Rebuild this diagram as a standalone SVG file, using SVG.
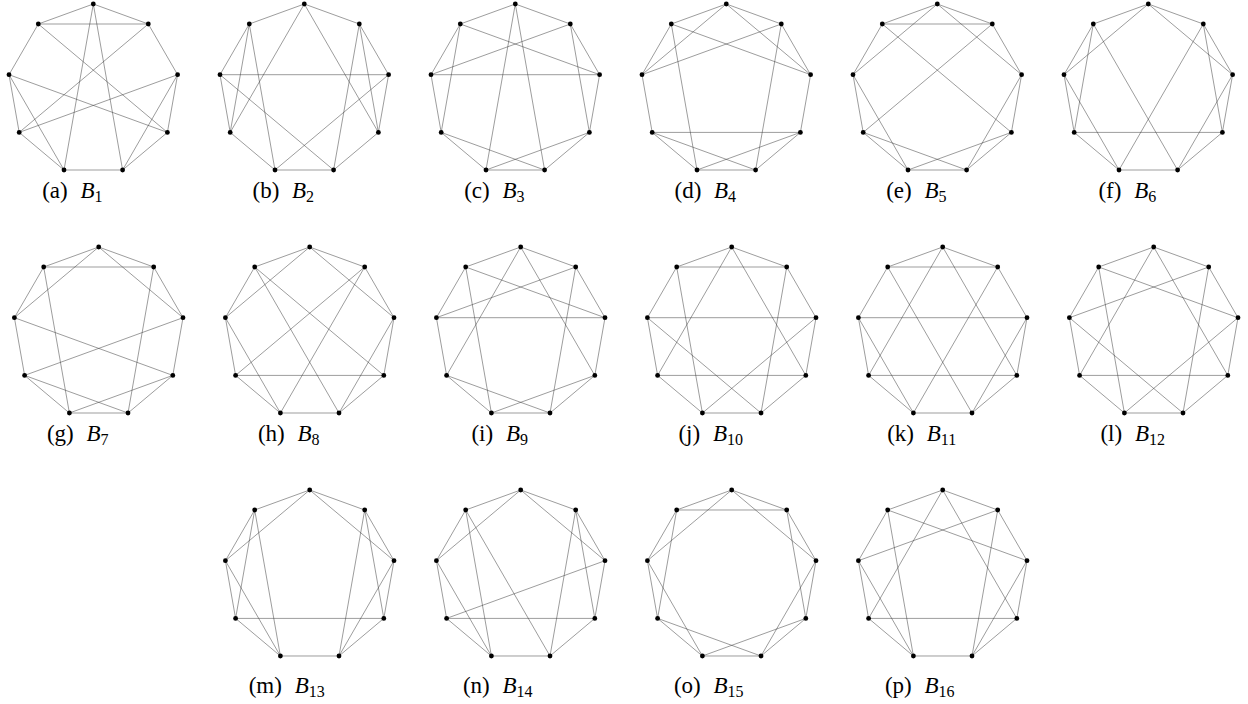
<svg xmlns="http://www.w3.org/2000/svg" width="1248" height="704" viewBox="0 0 1248 704">
<style>
.edges line{stroke:#3a3a3a;stroke-width:0.5;fill:none}
.nodes circle{fill:#000}
.lbl{font-family:"Liberation Serif","DejaVu Serif",serif;font-size:23px;fill:#000}
.it{font-style:italic}
.sub{font-size:16px}
</style>
<rect width="1248" height="704" fill="#fff"/>

<g id="graph-a" transform="translate(93.3 89.6)">
<g class="edges">
<line x1="0" y1="-85.6" x2="-55" y2="-65.6"/><line x1="0" y1="-85.6" x2="55" y2="-65.6"/><line x1="0" y1="-85.6" x2="-29.3" y2="80.4"/><line x1="0" y1="-85.6" x2="29.3" y2="80.4"/>
<line x1="-55" y1="-65.6" x2="55" y2="-65.6"/><line x1="-55" y1="-65.6" x2="-84.3" y2="-14.9"/><line x1="-55" y1="-65.6" x2="74.1" y2="42.8"/>
<line x1="55" y1="-65.6" x2="-74.1" y2="42.8"/><line x1="55" y1="-65.6" x2="84.3" y2="-14.9"/>
<line x1="-84.3" y1="-14.9" x2="74.1" y2="42.8"/><line x1="-84.3" y1="-14.9" x2="-74.1" y2="42.8"/><line x1="-84.3" y1="-14.9" x2="-29.3" y2="80.4"/>
<line x1="84.3" y1="-14.9" x2="-74.1" y2="42.8"/><line x1="84.3" y1="-14.9" x2="74.1" y2="42.8"/><line x1="84.3" y1="-14.9" x2="29.3" y2="80.4"/>
<line x1="-74.1" y1="42.8" x2="-29.3" y2="80.4"/><line x1="74.1" y1="42.8" x2="29.3" y2="80.4"/><line x1="-29.3" y1="80.4" x2="29.3" y2="80.4"/>
</g>
<g class="nodes">
<circle id="a-v0" cx="0" cy="-85.6" r="2.4"/><circle id="a-v1" cx="55" cy="-65.6" r="2.4"/><circle id="a-v2" cx="84.3" cy="-14.9" r="2.4"/><circle id="a-v3" cx="74.1" cy="42.8" r="2.4"/><circle id="a-v4" cx="29.3" cy="80.4" r="2.4"/><circle id="a-v5" cx="-29.3" cy="80.4" r="2.4"/><circle id="a-v6" cx="-74.1" cy="42.8" r="2.4"/><circle id="a-v7" cx="-84.3" cy="-14.9" r="2.4"/><circle id="a-v8" cx="-55" cy="-65.6" r="2.4"/>
</g>
<text class="lbl" x="-21" y="108" text-anchor="middle">(a)<tspan class="it" dx="7"> B</tspan><tspan class="sub" dy="4">1</tspan></text>
</g>

<g id="graph-b" transform="translate(304.3 89.6)">
<g class="edges">
<line x1="0" y1="-85.6" x2="-55" y2="-65.6"/><line x1="0" y1="-85.6" x2="55" y2="-65.6"/><line x1="0" y1="-85.6" x2="-74.1" y2="42.8"/><line x1="0" y1="-85.6" x2="74.1" y2="42.8"/>
<line x1="-55" y1="-65.6" x2="-84.3" y2="-14.9"/><line x1="-55" y1="-65.6" x2="-74.1" y2="42.8"/><line x1="-55" y1="-65.6" x2="-29.3" y2="80.4"/>
<line x1="55" y1="-65.6" x2="84.3" y2="-14.9"/><line x1="55" y1="-65.6" x2="74.1" y2="42.8"/><line x1="55" y1="-65.6" x2="29.3" y2="80.4"/>
<line x1="-84.3" y1="-14.9" x2="84.3" y2="-14.9"/><line x1="-84.3" y1="-14.9" x2="-74.1" y2="42.8"/><line x1="-84.3" y1="-14.9" x2="29.3" y2="80.4"/>
<line x1="84.3" y1="-14.9" x2="74.1" y2="42.8"/><line x1="84.3" y1="-14.9" x2="-29.3" y2="80.4"/>
<line x1="-74.1" y1="42.8" x2="-29.3" y2="80.4"/><line x1="74.1" y1="42.8" x2="29.3" y2="80.4"/><line x1="-29.3" y1="80.4" x2="29.3" y2="80.4"/>
</g>
<g class="nodes">
<circle id="b-v0" cx="0" cy="-85.6" r="2.4"/><circle id="b-v1" cx="55" cy="-65.6" r="2.4"/><circle id="b-v2" cx="84.3" cy="-14.9" r="2.4"/><circle id="b-v3" cx="74.1" cy="42.8" r="2.4"/><circle id="b-v4" cx="29.3" cy="80.4" r="2.4"/><circle id="b-v5" cx="-29.3" cy="80.4" r="2.4"/><circle id="b-v6" cx="-74.1" cy="42.8" r="2.4"/><circle id="b-v7" cx="-84.3" cy="-14.9" r="2.4"/><circle id="b-v8" cx="-55" cy="-65.6" r="2.4"/>
</g>
<text class="lbl" x="-21" y="108" text-anchor="middle">(b)<tspan class="it" dx="7"> B</tspan><tspan class="sub" dy="4">2</tspan></text>
</g>

<g id="graph-c" transform="translate(515.3 89.6)">
<g class="edges">
<line x1="0" y1="-85.6" x2="-55" y2="-65.6"/><line x1="0" y1="-85.6" x2="55" y2="-65.6"/><line x1="0" y1="-85.6" x2="-29.3" y2="80.4"/><line x1="0" y1="-85.6" x2="29.3" y2="80.4"/>
<line x1="-55" y1="-65.6" x2="84.3" y2="-14.9"/><line x1="-55" y1="-65.6" x2="-74.1" y2="42.8"/><line x1="-55" y1="-65.6" x2="-84.3" y2="-14.9"/>
<line x1="55" y1="-65.6" x2="-84.3" y2="-14.9"/><line x1="55" y1="-65.6" x2="74.1" y2="42.8"/><line x1="55" y1="-65.6" x2="84.3" y2="-14.9"/>
<line x1="-84.3" y1="-14.9" x2="84.3" y2="-14.9"/><line x1="-84.3" y1="-14.9" x2="-74.1" y2="42.8"/>
<line x1="84.3" y1="-14.9" x2="74.1" y2="42.8"/>
<line x1="-74.1" y1="42.8" x2="29.3" y2="80.4"/><line x1="-74.1" y1="42.8" x2="-29.3" y2="80.4"/>
<line x1="74.1" y1="42.8" x2="-29.3" y2="80.4"/><line x1="74.1" y1="42.8" x2="29.3" y2="80.4"/><line x1="-29.3" y1="80.4" x2="29.3" y2="80.4"/>
</g>
<g class="nodes">
<circle id="c-v0" cx="0" cy="-85.6" r="2.4"/><circle id="c-v1" cx="55" cy="-65.6" r="2.4"/><circle id="c-v2" cx="84.3" cy="-14.9" r="2.4"/><circle id="c-v3" cx="74.1" cy="42.8" r="2.4"/><circle id="c-v4" cx="29.3" cy="80.4" r="2.4"/><circle id="c-v5" cx="-29.3" cy="80.4" r="2.4"/><circle id="c-v6" cx="-74.1" cy="42.8" r="2.4"/><circle id="c-v7" cx="-84.3" cy="-14.9" r="2.4"/><circle id="c-v8" cx="-55" cy="-65.6" r="2.4"/>
</g>
<text class="lbl" x="-21" y="108" text-anchor="middle">(c)<tspan class="it" dx="7"> B</tspan><tspan class="sub" dy="4">3</tspan></text>
</g>

<g id="graph-d" transform="translate(726.3 89.6)">
<g class="edges">
<line x1="0" y1="-85.6" x2="-55" y2="-65.6"/><line x1="0" y1="-85.6" x2="55" y2="-65.6"/><line x1="0" y1="-85.6" x2="-84.3" y2="-14.9"/><line x1="0" y1="-85.6" x2="84.3" y2="-14.9"/>
<line x1="-55" y1="-65.6" x2="84.3" y2="-14.9"/><line x1="-55" y1="-65.6" x2="-29.3" y2="80.4"/><line x1="-55" y1="-65.6" x2="-84.3" y2="-14.9"/>
<line x1="55" y1="-65.6" x2="-84.3" y2="-14.9"/><line x1="55" y1="-65.6" x2="29.3" y2="80.4"/><line x1="55" y1="-65.6" x2="84.3" y2="-14.9"/>
<line x1="-84.3" y1="-14.9" x2="-74.1" y2="42.8"/>
<line x1="84.3" y1="-14.9" x2="74.1" y2="42.8"/>
<line x1="-74.1" y1="42.8" x2="74.1" y2="42.8"/><line x1="-74.1" y1="42.8" x2="-29.3" y2="80.4"/><line x1="-74.1" y1="42.8" x2="29.3" y2="80.4"/>
<line x1="74.1" y1="42.8" x2="29.3" y2="80.4"/><line x1="74.1" y1="42.8" x2="-29.3" y2="80.4"/><line x1="-29.3" y1="80.4" x2="29.3" y2="80.4"/>
</g>
<g class="nodes">
<circle id="d-v0" cx="0" cy="-85.6" r="2.4"/><circle id="d-v1" cx="55" cy="-65.6" r="2.4"/><circle id="d-v2" cx="84.3" cy="-14.9" r="2.4"/><circle id="d-v3" cx="74.1" cy="42.8" r="2.4"/><circle id="d-v4" cx="29.3" cy="80.4" r="2.4"/><circle id="d-v5" cx="-29.3" cy="80.4" r="2.4"/><circle id="d-v6" cx="-74.1" cy="42.8" r="2.4"/><circle id="d-v7" cx="-84.3" cy="-14.9" r="2.4"/><circle id="d-v8" cx="-55" cy="-65.6" r="2.4"/>
</g>
<text class="lbl" x="-21" y="108" text-anchor="middle">(d)<tspan class="it" dx="7"> B</tspan><tspan class="sub" dy="4">4</tspan></text>
</g>

<g id="graph-e" transform="translate(937.3 89.6)">
<g class="edges">
<line x1="0" y1="-85.6" x2="-55" y2="-65.6"/><line x1="0" y1="-85.6" x2="55" y2="-65.6"/><line x1="0" y1="-85.6" x2="-84.3" y2="-14.9"/><line x1="0" y1="-85.6" x2="84.3" y2="-14.9"/>
<line x1="-55" y1="-65.6" x2="55" y2="-65.6"/><line x1="-55" y1="-65.6" x2="-84.3" y2="-14.9"/><line x1="-55" y1="-65.6" x2="74.1" y2="42.8"/>
<line x1="55" y1="-65.6" x2="-74.1" y2="42.8"/><line x1="55" y1="-65.6" x2="84.3" y2="-14.9"/>
<line x1="-84.3" y1="-14.9" x2="-74.1" y2="42.8"/><line x1="-84.3" y1="-14.9" x2="-29.3" y2="80.4"/>
<line x1="84.3" y1="-14.9" x2="74.1" y2="42.8"/><line x1="84.3" y1="-14.9" x2="29.3" y2="80.4"/>
<line x1="-74.1" y1="42.8" x2="-29.3" y2="80.4"/><line x1="-74.1" y1="42.8" x2="29.3" y2="80.4"/>
<line x1="74.1" y1="42.8" x2="-29.3" y2="80.4"/><line x1="74.1" y1="42.8" x2="29.3" y2="80.4"/><line x1="-29.3" y1="80.4" x2="29.3" y2="80.4"/>
</g>
<g class="nodes">
<circle id="e-v0" cx="0" cy="-85.6" r="2.4"/><circle id="e-v1" cx="55" cy="-65.6" r="2.4"/><circle id="e-v2" cx="84.3" cy="-14.9" r="2.4"/><circle id="e-v3" cx="74.1" cy="42.8" r="2.4"/><circle id="e-v4" cx="29.3" cy="80.4" r="2.4"/><circle id="e-v5" cx="-29.3" cy="80.4" r="2.4"/><circle id="e-v6" cx="-74.1" cy="42.8" r="2.4"/><circle id="e-v7" cx="-84.3" cy="-14.9" r="2.4"/><circle id="e-v8" cx="-55" cy="-65.6" r="2.4"/>
</g>
<text class="lbl" x="-21" y="108" text-anchor="middle">(e)<tspan class="it" dx="7"> B</tspan><tspan class="sub" dy="4">5</tspan></text>
</g>

<g id="graph-f" transform="translate(1148.3 89.6)">
<g class="edges">
<line x1="0" y1="-85.6" x2="-55" y2="-65.6"/><line x1="0" y1="-85.6" x2="55" y2="-65.6"/><line x1="0" y1="-85.6" x2="-84.3" y2="-14.9"/><line x1="0" y1="-85.6" x2="84.3" y2="-14.9"/>
<line x1="-55" y1="-65.6" x2="-84.3" y2="-14.9"/><line x1="-55" y1="-65.6" x2="-74.1" y2="42.8"/><line x1="-55" y1="-65.6" x2="29.3" y2="80.4"/>
<line x1="55" y1="-65.6" x2="84.3" y2="-14.9"/><line x1="55" y1="-65.6" x2="74.1" y2="42.8"/><line x1="55" y1="-65.6" x2="-29.3" y2="80.4"/>
<line x1="-84.3" y1="-14.9" x2="-74.1" y2="42.8"/><line x1="-84.3" y1="-14.9" x2="-29.3" y2="80.4"/>
<line x1="84.3" y1="-14.9" x2="74.1" y2="42.8"/><line x1="84.3" y1="-14.9" x2="29.3" y2="80.4"/>
<line x1="-74.1" y1="42.8" x2="74.1" y2="42.8"/><line x1="-74.1" y1="42.8" x2="-29.3" y2="80.4"/>
<line x1="74.1" y1="42.8" x2="29.3" y2="80.4"/><line x1="-29.3" y1="80.4" x2="29.3" y2="80.4"/>
</g>
<g class="nodes">
<circle id="f-v0" cx="0" cy="-85.6" r="2.4"/><circle id="f-v1" cx="55" cy="-65.6" r="2.4"/><circle id="f-v2" cx="84.3" cy="-14.9" r="2.4"/><circle id="f-v3" cx="74.1" cy="42.8" r="2.4"/><circle id="f-v4" cx="29.3" cy="80.4" r="2.4"/><circle id="f-v5" cx="-29.3" cy="80.4" r="2.4"/><circle id="f-v6" cx="-74.1" cy="42.8" r="2.4"/><circle id="f-v7" cx="-84.3" cy="-14.9" r="2.4"/><circle id="f-v8" cx="-55" cy="-65.6" r="2.4"/>
</g>
<text class="lbl" x="-21" y="108" text-anchor="middle">(f)<tspan class="it" dx="7"> B</tspan><tspan class="sub" dy="4">6</tspan></text>
</g>

<g id="graph-g" transform="translate(98.7 332.6)">
<g class="edges">
<line x1="0" y1="-85.6" x2="-55" y2="-65.6"/><line x1="0" y1="-85.6" x2="55" y2="-65.6"/><line x1="0" y1="-85.6" x2="-84.3" y2="-14.9"/><line x1="0" y1="-85.6" x2="84.3" y2="-14.9"/>
<line x1="-55" y1="-65.6" x2="55" y2="-65.6"/><line x1="-55" y1="-65.6" x2="-84.3" y2="-14.9"/><line x1="-55" y1="-65.6" x2="-29.3" y2="80.4"/>
<line x1="55" y1="-65.6" x2="84.3" y2="-14.9"/><line x1="55" y1="-65.6" x2="29.3" y2="80.4"/>
<line x1="-84.3" y1="-14.9" x2="74.1" y2="42.8"/><line x1="-84.3" y1="-14.9" x2="-74.1" y2="42.8"/>
<line x1="84.3" y1="-14.9" x2="-74.1" y2="42.8"/><line x1="84.3" y1="-14.9" x2="74.1" y2="42.8"/>
<line x1="-74.1" y1="42.8" x2="-29.3" y2="80.4"/><line x1="-74.1" y1="42.8" x2="29.3" y2="80.4"/>
<line x1="74.1" y1="42.8" x2="-29.3" y2="80.4"/><line x1="74.1" y1="42.8" x2="29.3" y2="80.4"/><line x1="-29.3" y1="80.4" x2="29.3" y2="80.4"/>
</g>
<g class="nodes">
<circle id="g-v0" cx="0" cy="-85.6" r="2.4"/><circle id="g-v1" cx="55" cy="-65.6" r="2.4"/><circle id="g-v2" cx="84.3" cy="-14.9" r="2.4"/><circle id="g-v3" cx="74.1" cy="42.8" r="2.4"/><circle id="g-v4" cx="29.3" cy="80.4" r="2.4"/><circle id="g-v5" cx="-29.3" cy="80.4" r="2.4"/><circle id="g-v6" cx="-74.1" cy="42.8" r="2.4"/><circle id="g-v7" cx="-84.3" cy="-14.9" r="2.4"/><circle id="g-v8" cx="-55" cy="-65.6" r="2.4"/>
</g>
<text class="lbl" x="-21" y="108" text-anchor="middle">(g)<tspan class="it" dx="7"> B</tspan><tspan class="sub" dy="4">7</tspan></text>
</g>

<g id="graph-h" transform="translate(309.7 332.6)">
<g class="edges">
<line x1="0" y1="-85.6" x2="-55" y2="-65.6"/><line x1="0" y1="-85.6" x2="55" y2="-65.6"/><line x1="0" y1="-85.6" x2="-84.3" y2="-14.9"/><line x1="0" y1="-85.6" x2="84.3" y2="-14.9"/>
<line x1="-55" y1="-65.6" x2="74.1" y2="42.8"/><line x1="-55" y1="-65.6" x2="29.3" y2="80.4"/><line x1="-55" y1="-65.6" x2="-84.3" y2="-14.9"/>
<line x1="55" y1="-65.6" x2="-74.1" y2="42.8"/><line x1="55" y1="-65.6" x2="-29.3" y2="80.4"/><line x1="55" y1="-65.6" x2="84.3" y2="-14.9"/>
<line x1="-84.3" y1="-14.9" x2="-74.1" y2="42.8"/><line x1="-84.3" y1="-14.9" x2="-29.3" y2="80.4"/>
<line x1="84.3" y1="-14.9" x2="74.1" y2="42.8"/><line x1="84.3" y1="-14.9" x2="29.3" y2="80.4"/>
<line x1="-74.1" y1="42.8" x2="74.1" y2="42.8"/><line x1="-74.1" y1="42.8" x2="-29.3" y2="80.4"/>
<line x1="74.1" y1="42.8" x2="29.3" y2="80.4"/><line x1="-29.3" y1="80.4" x2="29.3" y2="80.4"/>
</g>
<g class="nodes">
<circle id="h-v0" cx="0" cy="-85.6" r="2.4"/><circle id="h-v1" cx="55" cy="-65.6" r="2.4"/><circle id="h-v2" cx="84.3" cy="-14.9" r="2.4"/><circle id="h-v3" cx="74.1" cy="42.8" r="2.4"/><circle id="h-v4" cx="29.3" cy="80.4" r="2.4"/><circle id="h-v5" cx="-29.3" cy="80.4" r="2.4"/><circle id="h-v6" cx="-74.1" cy="42.8" r="2.4"/><circle id="h-v7" cx="-84.3" cy="-14.9" r="2.4"/><circle id="h-v8" cx="-55" cy="-65.6" r="2.4"/>
</g>
<text class="lbl" x="-21" y="108" text-anchor="middle">(h)<tspan class="it" dx="7"> B</tspan><tspan class="sub" dy="4">8</tspan></text>
</g>

<g id="graph-i" transform="translate(520.7 332.6)">
<g class="edges">
<line x1="0" y1="-85.6" x2="-55" y2="-65.6"/><line x1="0" y1="-85.6" x2="55" y2="-65.6"/><line x1="0" y1="-85.6" x2="-74.1" y2="42.8"/><line x1="0" y1="-85.6" x2="74.1" y2="42.8"/>
<line x1="-55" y1="-65.6" x2="84.3" y2="-14.9"/><line x1="-55" y1="-65.6" x2="-29.3" y2="80.4"/><line x1="-55" y1="-65.6" x2="-84.3" y2="-14.9"/>
<line x1="55" y1="-65.6" x2="-84.3" y2="-14.9"/><line x1="55" y1="-65.6" x2="29.3" y2="80.4"/><line x1="55" y1="-65.6" x2="84.3" y2="-14.9"/>
<line x1="-84.3" y1="-14.9" x2="84.3" y2="-14.9"/><line x1="-84.3" y1="-14.9" x2="-74.1" y2="42.8"/>
<line x1="84.3" y1="-14.9" x2="74.1" y2="42.8"/>
<line x1="-74.1" y1="42.8" x2="29.3" y2="80.4"/><line x1="-74.1" y1="42.8" x2="-29.3" y2="80.4"/>
<line x1="74.1" y1="42.8" x2="-29.3" y2="80.4"/><line x1="74.1" y1="42.8" x2="29.3" y2="80.4"/><line x1="-29.3" y1="80.4" x2="29.3" y2="80.4"/>
</g>
<g class="nodes">
<circle id="i-v0" cx="0" cy="-85.6" r="2.4"/><circle id="i-v1" cx="55" cy="-65.6" r="2.4"/><circle id="i-v2" cx="84.3" cy="-14.9" r="2.4"/><circle id="i-v3" cx="74.1" cy="42.8" r="2.4"/><circle id="i-v4" cx="29.3" cy="80.4" r="2.4"/><circle id="i-v5" cx="-29.3" cy="80.4" r="2.4"/><circle id="i-v6" cx="-74.1" cy="42.8" r="2.4"/><circle id="i-v7" cx="-84.3" cy="-14.9" r="2.4"/><circle id="i-v8" cx="-55" cy="-65.6" r="2.4"/>
</g>
<text class="lbl" x="-21" y="108" text-anchor="middle">(i)<tspan class="it" dx="7"> B</tspan><tspan class="sub" dy="4">9</tspan></text>
</g>

<g id="graph-j" transform="translate(731.7 332.6)">
<g class="edges">
<line x1="0" y1="-85.6" x2="-55" y2="-65.6"/><line x1="0" y1="-85.6" x2="55" y2="-65.6"/><line x1="0" y1="-85.6" x2="-74.1" y2="42.8"/><line x1="0" y1="-85.6" x2="74.1" y2="42.8"/>
<line x1="-55" y1="-65.6" x2="55" y2="-65.6"/><line x1="-55" y1="-65.6" x2="-84.3" y2="-14.9"/><line x1="-55" y1="-65.6" x2="-29.3" y2="80.4"/>
<line x1="55" y1="-65.6" x2="84.3" y2="-14.9"/><line x1="55" y1="-65.6" x2="29.3" y2="80.4"/>
<line x1="-84.3" y1="-14.9" x2="84.3" y2="-14.9"/><line x1="-84.3" y1="-14.9" x2="29.3" y2="80.4"/><line x1="-84.3" y1="-14.9" x2="-74.1" y2="42.8"/>
<line x1="84.3" y1="-14.9" x2="-29.3" y2="80.4"/><line x1="84.3" y1="-14.9" x2="74.1" y2="42.8"/>
<line x1="-74.1" y1="42.8" x2="74.1" y2="42.8"/><line x1="-74.1" y1="42.8" x2="-29.3" y2="80.4"/>
<line x1="74.1" y1="42.8" x2="29.3" y2="80.4"/><line x1="-29.3" y1="80.4" x2="29.3" y2="80.4"/>
</g>
<g class="nodes">
<circle id="j-v0" cx="0" cy="-85.6" r="2.4"/><circle id="j-v1" cx="55" cy="-65.6" r="2.4"/><circle id="j-v2" cx="84.3" cy="-14.9" r="2.4"/><circle id="j-v3" cx="74.1" cy="42.8" r="2.4"/><circle id="j-v4" cx="29.3" cy="80.4" r="2.4"/><circle id="j-v5" cx="-29.3" cy="80.4" r="2.4"/><circle id="j-v6" cx="-74.1" cy="42.8" r="2.4"/><circle id="j-v7" cx="-84.3" cy="-14.9" r="2.4"/><circle id="j-v8" cx="-55" cy="-65.6" r="2.4"/>
</g>
<text class="lbl" x="-21" y="108" text-anchor="middle">(j)<tspan class="it" dx="7"> B</tspan><tspan class="sub" dy="4">10</tspan></text>
</g>

<g id="graph-k" transform="translate(942.7 332.6)">
<g class="edges">
<line x1="0" y1="-85.6" x2="-55" y2="-65.6"/><line x1="0" y1="-85.6" x2="55" y2="-65.6"/><line x1="0" y1="-85.6" x2="-74.1" y2="42.8"/><line x1="0" y1="-85.6" x2="74.1" y2="42.8"/>
<line x1="-55" y1="-65.6" x2="55" y2="-65.6"/><line x1="-55" y1="-65.6" x2="-84.3" y2="-14.9"/><line x1="-55" y1="-65.6" x2="29.3" y2="80.4"/>
<line x1="55" y1="-65.6" x2="84.3" y2="-14.9"/><line x1="55" y1="-65.6" x2="-29.3" y2="80.4"/>
<line x1="-84.3" y1="-14.9" x2="84.3" y2="-14.9"/><line x1="-84.3" y1="-14.9" x2="-74.1" y2="42.8"/><line x1="-84.3" y1="-14.9" x2="-29.3" y2="80.4"/>
<line x1="84.3" y1="-14.9" x2="74.1" y2="42.8"/><line x1="84.3" y1="-14.9" x2="29.3" y2="80.4"/>
<line x1="-74.1" y1="42.8" x2="74.1" y2="42.8"/><line x1="-74.1" y1="42.8" x2="-29.3" y2="80.4"/>
<line x1="74.1" y1="42.8" x2="29.3" y2="80.4"/><line x1="-29.3" y1="80.4" x2="29.3" y2="80.4"/>
</g>
<g class="nodes">
<circle id="k-v0" cx="0" cy="-85.6" r="2.4"/><circle id="k-v1" cx="55" cy="-65.6" r="2.4"/><circle id="k-v2" cx="84.3" cy="-14.9" r="2.4"/><circle id="k-v3" cx="74.1" cy="42.8" r="2.4"/><circle id="k-v4" cx="29.3" cy="80.4" r="2.4"/><circle id="k-v5" cx="-29.3" cy="80.4" r="2.4"/><circle id="k-v6" cx="-74.1" cy="42.8" r="2.4"/><circle id="k-v7" cx="-84.3" cy="-14.9" r="2.4"/><circle id="k-v8" cx="-55" cy="-65.6" r="2.4"/>
</g>
<text class="lbl" x="-21" y="108" text-anchor="middle">(k)<tspan class="it" dx="7"> B</tspan><tspan class="sub" dy="4">11</tspan></text>
</g>

<g id="graph-l" transform="translate(1153.7 332.6)">
<g class="edges">
<line x1="0" y1="-85.6" x2="-55" y2="-65.6"/><line x1="0" y1="-85.6" x2="55" y2="-65.6"/><line x1="0" y1="-85.6" x2="-74.1" y2="42.8"/><line x1="0" y1="-85.6" x2="74.1" y2="42.8"/>
<line x1="-55" y1="-65.6" x2="84.3" y2="-14.9"/><line x1="-55" y1="-65.6" x2="-84.3" y2="-14.9"/><line x1="-55" y1="-65.6" x2="-29.3" y2="80.4"/>
<line x1="55" y1="-65.6" x2="-84.3" y2="-14.9"/><line x1="55" y1="-65.6" x2="84.3" y2="-14.9"/><line x1="55" y1="-65.6" x2="29.3" y2="80.4"/>
<line x1="-84.3" y1="-14.9" x2="29.3" y2="80.4"/><line x1="-84.3" y1="-14.9" x2="-74.1" y2="42.8"/>
<line x1="84.3" y1="-14.9" x2="-29.3" y2="80.4"/><line x1="84.3" y1="-14.9" x2="74.1" y2="42.8"/>
<line x1="-74.1" y1="42.8" x2="74.1" y2="42.8"/><line x1="-74.1" y1="42.8" x2="-29.3" y2="80.4"/>
<line x1="74.1" y1="42.8" x2="29.3" y2="80.4"/><line x1="-29.3" y1="80.4" x2="29.3" y2="80.4"/>
</g>
<g class="nodes">
<circle id="l-v0" cx="0" cy="-85.6" r="2.4"/><circle id="l-v1" cx="55" cy="-65.6" r="2.4"/><circle id="l-v2" cx="84.3" cy="-14.9" r="2.4"/><circle id="l-v3" cx="74.1" cy="42.8" r="2.4"/><circle id="l-v4" cx="29.3" cy="80.4" r="2.4"/><circle id="l-v5" cx="-29.3" cy="80.4" r="2.4"/><circle id="l-v6" cx="-74.1" cy="42.8" r="2.4"/><circle id="l-v7" cx="-84.3" cy="-14.9" r="2.4"/><circle id="l-v8" cx="-55" cy="-65.6" r="2.4"/>
</g>
<text class="lbl" x="-21" y="108" text-anchor="middle">(l)<tspan class="it" dx="7"> B</tspan><tspan class="sub" dy="4">12</tspan></text>
</g>

<g id="graph-m" transform="translate(309.7 575.6)">
<g class="edges">
<line x1="0" y1="-85.6" x2="-55" y2="-65.6"/><line x1="0" y1="-85.6" x2="55" y2="-65.6"/><line x1="0" y1="-85.6" x2="-84.3" y2="-14.9"/><line x1="0" y1="-85.6" x2="84.3" y2="-14.9"/>
<line x1="-55" y1="-65.6" x2="-84.3" y2="-14.9"/><line x1="-55" y1="-65.6" x2="-74.1" y2="42.8"/><line x1="-55" y1="-65.6" x2="-29.3" y2="80.4"/>
<line x1="55" y1="-65.6" x2="84.3" y2="-14.9"/><line x1="55" y1="-65.6" x2="74.1" y2="42.8"/><line x1="55" y1="-65.6" x2="29.3" y2="80.4"/>
<line x1="-84.3" y1="-14.9" x2="-74.1" y2="42.8"/><line x1="-84.3" y1="-14.9" x2="-29.3" y2="80.4"/>
<line x1="84.3" y1="-14.9" x2="74.1" y2="42.8"/><line x1="84.3" y1="-14.9" x2="29.3" y2="80.4"/>
<line x1="-74.1" y1="42.8" x2="74.1" y2="42.8"/><line x1="-74.1" y1="42.8" x2="-29.3" y2="80.4"/>
<line x1="74.1" y1="42.8" x2="29.3" y2="80.4"/><line x1="-29.3" y1="80.4" x2="29.3" y2="80.4"/>
</g>
<g class="nodes">
<circle id="m-v0" cx="0" cy="-85.6" r="2.4"/><circle id="m-v1" cx="55" cy="-65.6" r="2.4"/><circle id="m-v2" cx="84.3" cy="-14.9" r="2.4"/><circle id="m-v3" cx="74.1" cy="42.8" r="2.4"/><circle id="m-v4" cx="29.3" cy="80.4" r="2.4"/><circle id="m-v5" cx="-29.3" cy="80.4" r="2.4"/><circle id="m-v6" cx="-74.1" cy="42.8" r="2.4"/><circle id="m-v7" cx="-84.3" cy="-14.9" r="2.4"/><circle id="m-v8" cx="-55" cy="-65.6" r="2.4"/>
</g>
<text class="lbl" x="-23" y="117.5" text-anchor="middle">(m)<tspan class="it" dx="7"> B</tspan><tspan class="sub" dy="4">13</tspan></text>
</g>

<g id="graph-n" transform="translate(520.7 575.6)">
<g class="edges">
<line x1="0" y1="-85.6" x2="-55" y2="-65.6"/><line x1="0" y1="-85.6" x2="55" y2="-65.6"/><line x1="0" y1="-85.6" x2="-84.3" y2="-14.9"/><line x1="0" y1="-85.6" x2="84.3" y2="-14.9"/>
<line x1="-55" y1="-65.6" x2="-84.3" y2="-14.9"/><line x1="-55" y1="-65.6" x2="-29.3" y2="80.4"/><line x1="-55" y1="-65.6" x2="29.3" y2="80.4"/>
<line x1="55" y1="-65.6" x2="84.3" y2="-14.9"/><line x1="55" y1="-65.6" x2="74.1" y2="42.8"/><line x1="55" y1="-65.6" x2="29.3" y2="80.4"/>
<line x1="-84.3" y1="-14.9" x2="-74.1" y2="42.8"/><line x1="-84.3" y1="-14.9" x2="-29.3" y2="80.4"/>
<line x1="84.3" y1="-14.9" x2="-74.1" y2="42.8"/><line x1="84.3" y1="-14.9" x2="74.1" y2="42.8"/>
<line x1="-74.1" y1="42.8" x2="74.1" y2="42.8"/><line x1="-74.1" y1="42.8" x2="-29.3" y2="80.4"/>
<line x1="74.1" y1="42.8" x2="29.3" y2="80.4"/><line x1="-29.3" y1="80.4" x2="29.3" y2="80.4"/>
</g>
<g class="nodes">
<circle id="n-v0" cx="0" cy="-85.6" r="2.4"/><circle id="n-v1" cx="55" cy="-65.6" r="2.4"/><circle id="n-v2" cx="84.3" cy="-14.9" r="2.4"/><circle id="n-v3" cx="74.1" cy="42.8" r="2.4"/><circle id="n-v4" cx="29.3" cy="80.4" r="2.4"/><circle id="n-v5" cx="-29.3" cy="80.4" r="2.4"/><circle id="n-v6" cx="-74.1" cy="42.8" r="2.4"/><circle id="n-v7" cx="-84.3" cy="-14.9" r="2.4"/><circle id="n-v8" cx="-55" cy="-65.6" r="2.4"/>
</g>
<text class="lbl" x="-23" y="117.5" text-anchor="middle">(n)<tspan class="it" dx="7"> B</tspan><tspan class="sub" dy="4">14</tspan></text>
</g>

<g id="graph-o" transform="translate(731.7 575.6)">
<g class="edges">
<line x1="0" y1="-85.6" x2="-55" y2="-65.6"/><line x1="0" y1="-85.6" x2="55" y2="-65.6"/><line x1="0" y1="-85.6" x2="-84.3" y2="-14.9"/><line x1="0" y1="-85.6" x2="84.3" y2="-14.9"/>
<line x1="-55" y1="-65.6" x2="55" y2="-65.6"/><line x1="-55" y1="-65.6" x2="-84.3" y2="-14.9"/><line x1="-55" y1="-65.6" x2="-74.1" y2="42.8"/>
<line x1="55" y1="-65.6" x2="84.3" y2="-14.9"/><line x1="55" y1="-65.6" x2="74.1" y2="42.8"/>
<line x1="-84.3" y1="-14.9" x2="-74.1" y2="42.8"/><line x1="-84.3" y1="-14.9" x2="-29.3" y2="80.4"/>
<line x1="84.3" y1="-14.9" x2="74.1" y2="42.8"/><line x1="84.3" y1="-14.9" x2="29.3" y2="80.4"/>
<line x1="-74.1" y1="42.8" x2="29.3" y2="80.4"/><line x1="-74.1" y1="42.8" x2="-29.3" y2="80.4"/>
<line x1="74.1" y1="42.8" x2="-29.3" y2="80.4"/><line x1="74.1" y1="42.8" x2="29.3" y2="80.4"/><line x1="-29.3" y1="80.4" x2="29.3" y2="80.4"/>
</g>
<g class="nodes">
<circle id="o-v0" cx="0" cy="-85.6" r="2.4"/><circle id="o-v1" cx="55" cy="-65.6" r="2.4"/><circle id="o-v2" cx="84.3" cy="-14.9" r="2.4"/><circle id="o-v3" cx="74.1" cy="42.8" r="2.4"/><circle id="o-v4" cx="29.3" cy="80.4" r="2.4"/><circle id="o-v5" cx="-29.3" cy="80.4" r="2.4"/><circle id="o-v6" cx="-74.1" cy="42.8" r="2.4"/><circle id="o-v7" cx="-84.3" cy="-14.9" r="2.4"/><circle id="o-v8" cx="-55" cy="-65.6" r="2.4"/>
</g>
<text class="lbl" x="-23" y="117.5" text-anchor="middle">(o)<tspan class="it" dx="7"> B</tspan><tspan class="sub" dy="4">15</tspan></text>
</g>

<g id="graph-p" transform="translate(942.7 575.6)">
<g class="edges">
<line x1="0" y1="-85.6" x2="-55" y2="-65.6"/><line x1="0" y1="-85.6" x2="55" y2="-65.6"/><line x1="0" y1="-85.6" x2="-74.1" y2="42.8"/><line x1="0" y1="-85.6" x2="74.1" y2="42.8"/>
<line x1="-55" y1="-65.6" x2="84.3" y2="-14.9"/><line x1="-55" y1="-65.6" x2="-84.3" y2="-14.9"/><line x1="-55" y1="-65.6" x2="-29.3" y2="80.4"/>
<line x1="55" y1="-65.6" x2="-84.3" y2="-14.9"/><line x1="55" y1="-65.6" x2="84.3" y2="-14.9"/><line x1="55" y1="-65.6" x2="29.3" y2="80.4"/>
<line x1="-84.3" y1="-14.9" x2="-74.1" y2="42.8"/><line x1="-84.3" y1="-14.9" x2="-29.3" y2="80.4"/>
<line x1="84.3" y1="-14.9" x2="74.1" y2="42.8"/><line x1="84.3" y1="-14.9" x2="29.3" y2="80.4"/>
<line x1="-74.1" y1="42.8" x2="74.1" y2="42.8"/><line x1="-74.1" y1="42.8" x2="-29.3" y2="80.4"/>
<line x1="74.1" y1="42.8" x2="29.3" y2="80.4"/><line x1="-29.3" y1="80.4" x2="29.3" y2="80.4"/>
</g>
<g class="nodes">
<circle id="p-v0" cx="0" cy="-85.6" r="2.4"/><circle id="p-v1" cx="55" cy="-65.6" r="2.4"/><circle id="p-v2" cx="84.3" cy="-14.9" r="2.4"/><circle id="p-v3" cx="74.1" cy="42.8" r="2.4"/><circle id="p-v4" cx="29.3" cy="80.4" r="2.4"/><circle id="p-v5" cx="-29.3" cy="80.4" r="2.4"/><circle id="p-v6" cx="-74.1" cy="42.8" r="2.4"/><circle id="p-v7" cx="-84.3" cy="-14.9" r="2.4"/><circle id="p-v8" cx="-55" cy="-65.6" r="2.4"/>
</g>
<text class="lbl" x="-23" y="117.5" text-anchor="middle">(p)<tspan class="it" dx="7"> B</tspan><tspan class="sub" dy="4">16</tspan></text>
</g>
</svg>
